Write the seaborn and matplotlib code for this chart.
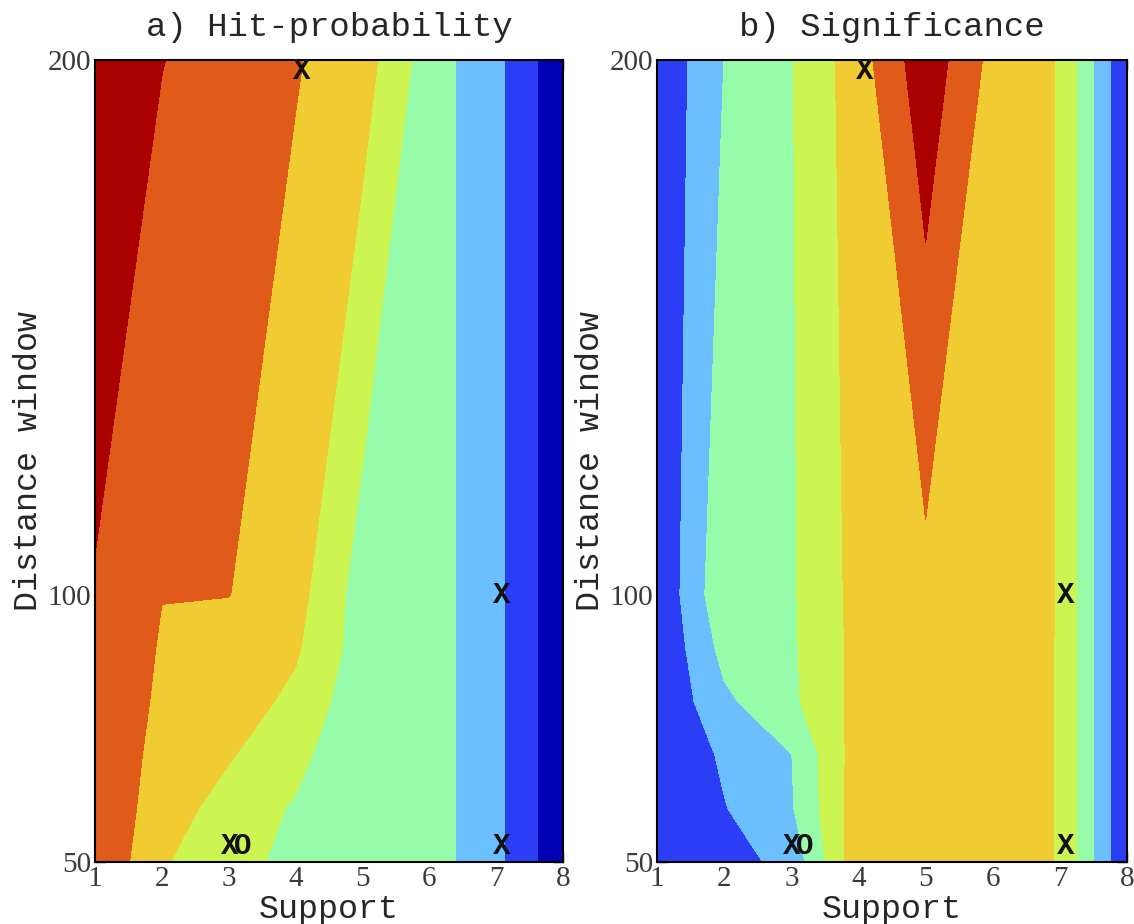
import numpy as np
import matplotlib
matplotlib.use("Agg")
import matplotlib.pyplot as plt
import seaborn as sns

# grid of the two maps
support = [1, 2, 3, 4, 5, 6, 7, 8]
distance = [50, 60, 70, 80, 90, 100, 200]

# values (rows = distance, cols = support), in level units
hit_prob = [
    [6.96, 5.10, 4.30, 3.75, 3.05, 3.49, 2.26, 0.26],
    [6.90, 5.45, 4.63, 3.89, 3.05, 3.49, 2.26, 0.26],
    [6.90, 5.63, 5.08, 4.30, 3.10, 3.49, 2.26, 0.26],
    [6.90, 5.80, 5.51, 4.76, 3.30, 3.49, 2.26, 0.26],
    [6.90, 5.91, 5.60, 5.13, 3.52, 3.49, 2.26, 0.26],
    [6.96, 6.02, 6.02, 5.36, 3.54, 3.49, 2.26, 0.26],
    [7.50, 7.03, 6.50, 6.07, 5.45, 3.49, 2.26, 0.26],
]
significance = [
    [1.02, 1.56, 2.33, 5.67, 5.60, 5.60, 4.94, 1.05],
    [1.02, 1.95, 2.90, 5.56, 5.60, 5.60, 4.94, 1.05],
    [1.02, 2.16, 2.98, 5.50, 5.60, 5.60, 4.94, 1.05],
    [1.02, 2.80, 3.80, 5.32, 5.60, 5.60, 4.94, 1.05],
    [1.02, 3.32, 3.855, 5.30, 5.60, 5.60, 4.94, 1.05],
    [1.08, 3.78, 3.88, 5.33, 5.73, 5.70, 4.94, 1.05],
    [1.15, 3.01, 3.95, 5.55, 7.66, 5.70, 4.94, 1.05],
]

levels = [0, 1, 2, 3, 4, 5, 6, 7, 8]
level_colors = ["#0000b4", "#2b3ef5", "#6bbfff", "#96fcaa",
                "#cdf552", "#f0cc32", "#e05a1a", "#aa0000"]

# text markers: (label, support, distance)
marks_a = [("X", 4.09, 198), ("X", 7.08, 100), ("X", 7.08, 53),
           ("X", 3.01, 53), ("O", 3.21, 53)]
marks_b = [("X", 4.10, 198), ("X", 7.09, 100), ("X", 7.09, 53),
           ("X", 3.00, 53), ("O", 3.20, 53)]

x_ticks = [1, 2, 3, 4, 5, 6, 7, 8]
y_ticks = [50, 100, 200]

sns.set_style("ticks")
mono = "Liberation Mono"
serif = "Liberation Serif"

fig = plt.figure(figsize=(11.34, 9.24), dpi=100)
ax_a = fig.add_axes([0.0838, 0.0671, 0.4127, 0.868])
ax_b = fig.add_axes([0.5794, 0.0671, 0.4145, 0.868])

X, Y = np.meshgrid(support, distance)

for ax, data, title, marks in [
    (ax_a, hit_prob, "a) Hit-probability", marks_a),
    (ax_b, significance, "b) Significance", marks_b),
]:
    ax.contourf(X, Y, np.array(data), levels=levels, colors=level_colors)
    for lab, mx, my in marks:
        ax.text(mx, my, lab, ha="center", va="center", fontsize=21,
                family=mono, fontweight="bold", color="#111111")
    ax.set_xlim(1, 8)
    ax.set_ylim(50, 200)
    ax.set_xticks(x_ticks)
    ax.set_yticks(y_ticks)
    ax.set_xticklabels([str(t) for t in x_ticks], family=serif, fontsize=21)
    ax.set_yticklabels([str(t) for t in y_ticks], family=serif, fontsize=21)
    ax.tick_params(direction="in", length=7, width=1, top=True, right=True,
                   pad=3, colors="black", labelcolor="#3a3a3a")
    ax.set_title(title, family=mono, fontsize=24.5, pad=17)
    ax.set_xlabel("Support", family=mono, fontsize=24, labelpad=1)
    ax.set_ylabel("Distance window", family=mono, fontsize=24, labelpad=2)
    for s in ax.spines.values():
        s.set_linewidth(1.5)
        s.set_color("black")

fig.savefig("out.png", dpi=100)
